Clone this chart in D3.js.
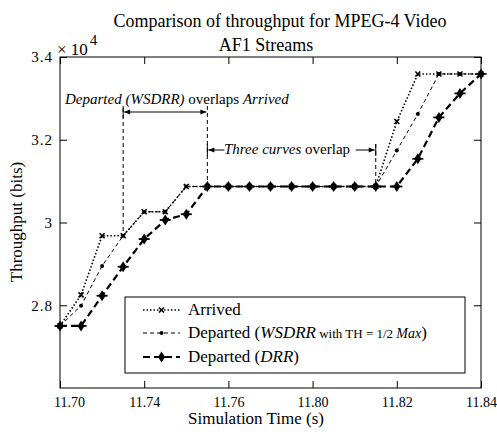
<!DOCTYPE html>
<html>
<head>
<meta charset="utf-8">
<script src="https://cdn.jsdelivr.net/npm/d3@7"></script>
<style>
  body { margin: 0; background: #fff; }
  svg { display: block; font-family: "Liberation Serif", "Times New Roman", serif; }
</style>
</head>
<body>
<svg width="497" height="436"></svg>
<script>
// simulation times (s), one sample every 7 ms
var times = [11.700, 11.707, 11.714, 11.721, 11.728, 11.735, 11.742, 11.749, 11.756, 11.763, 11.770,
             11.777, 11.784, 11.791, 11.798, 11.805, 11.812, 11.819, 11.826, 11.833, 11.840];
// throughput, x 10^4 bits
var arrived = [2.750, 2.825, 2.968, 2.968, 3.026, 3.026, 3.087, 3.087, 3.087, 3.087, 3.087,
               3.087, 3.087, 3.087, 3.087, 3.087, 3.244, 3.359, 3.359, 3.359, 3.359];
var wsdrr   = [2.750, 2.799, 2.895, 2.968, 3.026, 3.026, 3.087, 3.087, 3.087, 3.087, 3.087,
               3.087, 3.087, 3.087, 3.087, 3.087, 3.174, 3.262, 3.359, 3.359, 3.359];
var drr     = [2.750, 2.750, 2.823, 2.893, 2.960, 3.006, 3.020, 3.087, 3.087, 3.087, 3.087,
               3.087, 3.087, 3.087, 3.087, 3.087, 3.087, 3.154, 3.254, 3.312, 3.359];

var xTicks = [11.70, 11.728, 11.756, 11.784, 11.812, 11.84];
var xTickLabels = ["11.70", "11.74", "11.76", "11.80", "11.82", "11.84"];
var yTicks = [2.8, 3.0, 3.2, 3.4];
var yTickLabels = ["2.8", "3", "3.2", "3.4"];

var padL = 60, padR = 481, padT = 57, padB = 388;

var xs = d3.scaleLinear().domain([11.70, 11.84]).range([padL, padR]);
var ys = d3.scaleLinear().domain([2.6, 3.4]).range([padB, padT]);

var svg = d3.select("svg");

svg.append("defs").selectAll("marker").data(["arr"]).enter().append("marker")
    .attr("id", "arr").attr("viewBox", "0 0 10 10").attr("refX", 10).attr("refY", 5)
    .attr("markerWidth", 7).attr("markerHeight", 6).attr("orient", "auto-start-reverse")
    .attr("markerUnits", "userSpaceOnUse")
  .append("path").attr("d", "M0,1L10,5L0,9Z").attr("fill", "#000");

// title
svg.append("text").attr("x", 280).attr("y", 27).attr("text-anchor", "middle")
    .attr("font-size", 18).text("Comparison of throughput for MPEG-4 Video");
svg.append("text").attr("x", 266).attr("y", 51).attr("text-anchor", "middle")
    .attr("font-size", 18).text("AF1 Streams");

// axes
var xAxis = d3.axisBottom(xs).tickValues(xTicks).tickSize(-7).tickPadding(9)
    .tickFormat(function(d, i) { return xTickLabels[i]; });
var gx = svg.append("g").attr("transform", "translate(0," + padB + ")").call(xAxis);
gx.selectAll("text").attr("font-size", 14).attr("font-family", "Liberation Serif")
    .attr("dx", function(d, i) { return i == 0 ? 9 : 0; });

svg.append("g").attr("transform", "translate(0," + padT + ")")
    .call(d3.axisTop(xs).tickValues(xTicks).tickSize(-7).tickFormat(""));

var yAxis = d3.axisLeft(ys).tickValues(yTicks).tickSize(-7).tickPadding(7)
    .tickFormat(function(d, i) { return yTickLabels[i]; });
var gy = svg.append("g").attr("transform", "translate(" + padL + ",0)").call(yAxis);
gy.selectAll("text").attr("font-size", 15).attr("font-family", "Liberation Serif")
    .attr("letter-spacing", 1);

svg.append("g").attr("transform", "translate(" + padR + ",0)")
    .call(d3.axisRight(ys).tickValues(yTicks).tickSize(-7).tickFormat(""));

svg.selectAll(".domain").remove();
svg.selectAll(".tick line").attr("stroke", "#000");

svg.append("rect").attr("x", padL).attr("y", padT)
    .attr("width", padR - padL).attr("height", padB - padT)
    .attr("fill", "none").attr("stroke", "#000").attr("stroke-width", 1);

var expo = svg.append("text").attr("x", 57).attr("y", 55).attr("font-size", 17);
expo.append("tspan").text("\u00d7 10");
expo.append("tspan").attr("dy", -10).attr("dx", 2).attr("font-size", 15).text("4");

svg.append("text").attr("x", 256).attr("y", 424).attr("text-anchor", "middle")
    .attr("font-size", 17).text("Simulation Time (s)");
svg.append("text").attr("transform", "translate(22,222) rotate(-90)")
    .attr("text-anchor", "middle").attr("font-size", 17).text("Throughput (bits)");

// annotations
var ann = svg.append("g").attr("stroke", "#000").attr("fill", "none");
ann.append("line").attr("x1", xs(times[3])).attr("x2", xs(times[3]))
    .attr("y1", 108).attr("y2", ys(arrived[3])).attr("stroke-dasharray", "4,3");
ann.append("line").attr("x1", xs(times[7])).attr("x2", xs(times[7]))
    .attr("y1", 106).attr("y2", ys(drr[7])).attr("stroke-dasharray", "4,3");
ann.append("line").attr("x1", xs(times[15])).attr("x2", xs(times[15]))
    .attr("y1", 144).attr("y2", ys(drr[15])).attr("stroke-dasharray", "4,3");
ann.append("line").attr("x1", xs(times[3]) + 1).attr("x2", xs(times[7]) - 1)
    .attr("y1", 112).attr("y2", 112)
    .attr("marker-start", "url(#arr)").attr("marker-end", "url(#arr)");
ann.append("line").attr("x1", xs(times[3])).attr("x2", xs(times[3])).attr("y1", 106).attr("y2", 118);
ann.append("line").attr("x1", xs(times[7])).attr("x2", xs(times[7])).attr("y1", 144).attr("y2", 156);
ann.append("line").attr("x1", xs(times[15])).attr("x2", xs(times[15])).attr("y1", 144).attr("y2", 156);
ann.append("line").attr("x1", xs(times[7]) + 17).attr("x2", xs(times[7]) + 1)
    .attr("y1", 150).attr("y2", 150).attr("marker-end", "url(#arr)");
ann.append("line").attr("x1", xs(times[15]) - 20).attr("x2", xs(times[15]) - 1)
    .attr("y1", 150).attr("y2", 150).attr("marker-end", "url(#arr)");

var t1 = svg.append("text").attr("x", 65).attr("y", 104).attr("font-size", 15);
t1.append("tspan").attr("font-style", "italic").text("Departed (WSDRR)");
t1.append("tspan").text(" overlaps  ");
t1.append("tspan").attr("font-style", "italic").text("Arrived");

var t2 = svg.append("text").attr("x", 224).attr("y", 154).attr("font-size", 15);
t2.append("tspan").attr("font-style", "italic").text("Three curves");
t2.append("tspan").text(" overlap");

// series
var pts = function(vals) { return vals.map(function(v, i) { return [xs(times[i]), ys(v)]; }); };
var line = d3.line();

var series = [
  {name: "arrived", vals: arrived, width: 1.6, dash: "1.5,2", marker: "x"},
  {name: "wsdrr", vals: wsdrr, width: 1, dash: "4,3", marker: "dot"},
  {name: "drr", vals: drr, width: 2.2, dash: "7,4", marker: "diamond"}
];

function drawMarker(g, type) {
  if (type == "x") {
    g.append("path").attr("d", "M-2.5,-2.5L2.5,2.5M-2.5,2.5L2.5,-2.5")
      .attr("stroke", "#000").attr("stroke-width", 1.6).attr("fill", "none");
  } else if (type == "dot") {
    g.append("circle").attr("r", 2).attr("fill", "#000");
  } else {
    g.append("path").attr("d", "M0,-5.5L3.5,0L0,5.5L-3.5,0Z").attr("fill", "#000");
    g.append("path").attr("d", "M-5.5,0H5.5").attr("stroke", "#000").attr("stroke-width", 1.8);
  }
}

series.forEach(function(s) {
  svg.append("path").attr("d", line(pts(s.vals)))
    .attr("fill", "none").attr("stroke", "#000")
    .attr("stroke-width", s.width).attr("stroke-dasharray", s.dash);
  svg.append("g").selectAll("g").data(pts(s.vals)).enter().append("g")
    .attr("transform", function(d) { return "translate(" + d[0] + "," + d[1] + ")"; })
    .each(function() { drawMarker(d3.select(this), s.marker); });
});

// legend
var legend = svg.append("g");
legend.append("rect").attr("x", 125).attr("y", 297).attr("width", 340).attr("height", 76)
    .attr("fill", "#fff").attr("stroke", "#000");
var legendY = [310, 333, 357];
series.forEach(function(s, i) {
  legend.append("line").attr("x1", 143).attr("x2", 180)
    .attr("y1", legendY[i]).attr("y2", legendY[i])
    .attr("stroke", "#000").attr("stroke-width", s.width).attr("stroke-dasharray", s.dash);
  var m = legend.append("g").attr("transform", "translate(161.5," + legendY[i] + ")");
  drawMarker(m, s.marker);
});
legend.append("text").attr("x", 188).attr("y", 315).attr("font-size", 17).text("Arrived");
var l2 = legend.append("text").attr("x", 188).attr("y", 338).attr("font-size", 17);
l2.append("tspan").text("Departed (");
l2.append("tspan").attr("font-style", "italic").text("WSDRR");
l2.append("tspan").attr("font-size", 13).text(" with TH = 1/2 ");
l2.append("tspan").attr("font-style", "italic").attr("font-size", 14).text("Max");
l2.append("tspan").text(")");
var l3 = legend.append("text").attr("x", 188).attr("y", 362).attr("font-size", 17);
l3.append("tspan").text("Departed (");
l3.append("tspan").attr("font-style", "italic").text("DRR");
l3.append("tspan").text(")");
</script>
</body>
</html>
